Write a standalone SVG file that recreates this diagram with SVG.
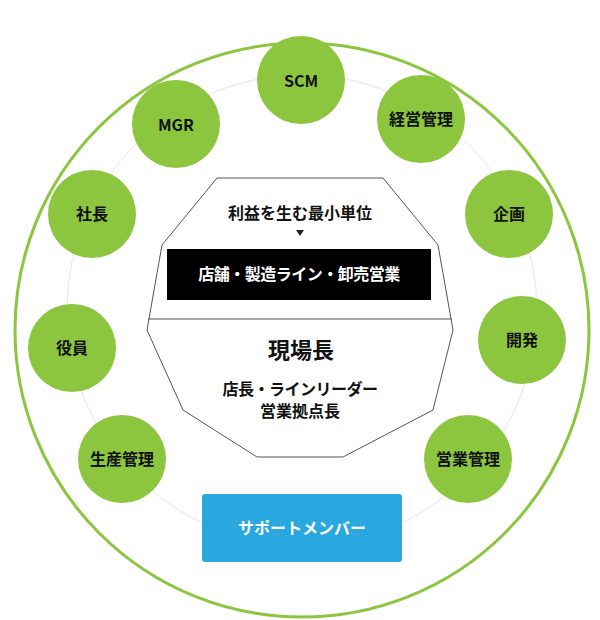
<svg xmlns="http://www.w3.org/2000/svg" width="600" height="620" viewBox="0 0 600 620">
<style>
text{font-family:"Noto Sans CJK JP","Noto Sans",sans-serif;font-weight:bold;text-anchor:middle;fill:#111}
.n circle{fill:#8cc63f}
.n text{font-size:16px}
</style>
<rect width="600" height="620" fill="#fff"/>
<circle cx="302" cy="330" r="287" fill="none" stroke="#8cc63f" stroke-width="3"/>
<g id="connectors"><circle cx="302" cy="310" r="235" fill="none" stroke="#e6e6e6" stroke-width="1"/></g>
<g id="center">
<polygon points="217,178 383,178 438,245 453,330 433,410 343,457 257,457 183,410 147,330 162,245" fill="#fff" stroke="#555" stroke-width="1"/>
<line x1="148" y1="319" x2="452" y2="319" stroke="#555"/>
<text x="300" y="219" font-size="16">利益を生む最小単位</text>
<polygon points="296,230 304,230 300,236" fill="#222"/>
<rect x="167" y="249" width="264" height="51" fill="#000"/>
<text x="299" y="280" font-size="16" letter-spacing="-0.5" style="fill:#fff">店舗・製造ライン・卸売営業</text>
<text x="301" y="358" font-size="22">現場長</text>
<text x="300" y="395" font-size="16" letter-spacing="-0.5">店長・ラインリーダー</text>
<text x="300" y="417" font-size="16">営業拠点長</text>
</g>
<g id="scm" class="n"><circle cx="301" cy="80" r="44"/><text x="301" y="87" font-size="18">SCM</text></g>
<g id="keiei" class="n"><circle cx="421" cy="119" r="44"/><text x="421" y="125">経営管理</text></g>
<g id="kikaku" class="n"><circle cx="509" cy="214" r="44"/><text x="509" y="220">企画</text></g>
<g id="kaihatsu" class="n"><circle cx="522" cy="340" r="44"/><text x="522" y="346">開発</text></g>
<g id="eigyo" class="n"><circle cx="468" cy="459" r="44"/><text x="468" y="465">営業管理</text></g>
<g id="mgr" class="n"><circle cx="176" cy="124" r="44"/><text x="176" y="131" font-size="18">MGR</text></g>
<g id="shacho" class="n"><circle cx="92" cy="214" r="44"/><text x="92" y="220">社長</text></g>
<g id="yakuin" class="n"><circle cx="72" cy="348" r="44"/><text x="72" y="354">役員</text></g>
<g id="seisan" class="n"><circle cx="122" cy="459" r="44"/><text x="122" y="465">生産管理</text></g>
<g id="support"><rect x="202" y="494" width="200" height="68" rx="3" fill="#29a8e0"/><text x="302" y="534" font-size="16" style="fill:#fff">サポートメンバー</text></g>
</svg>
